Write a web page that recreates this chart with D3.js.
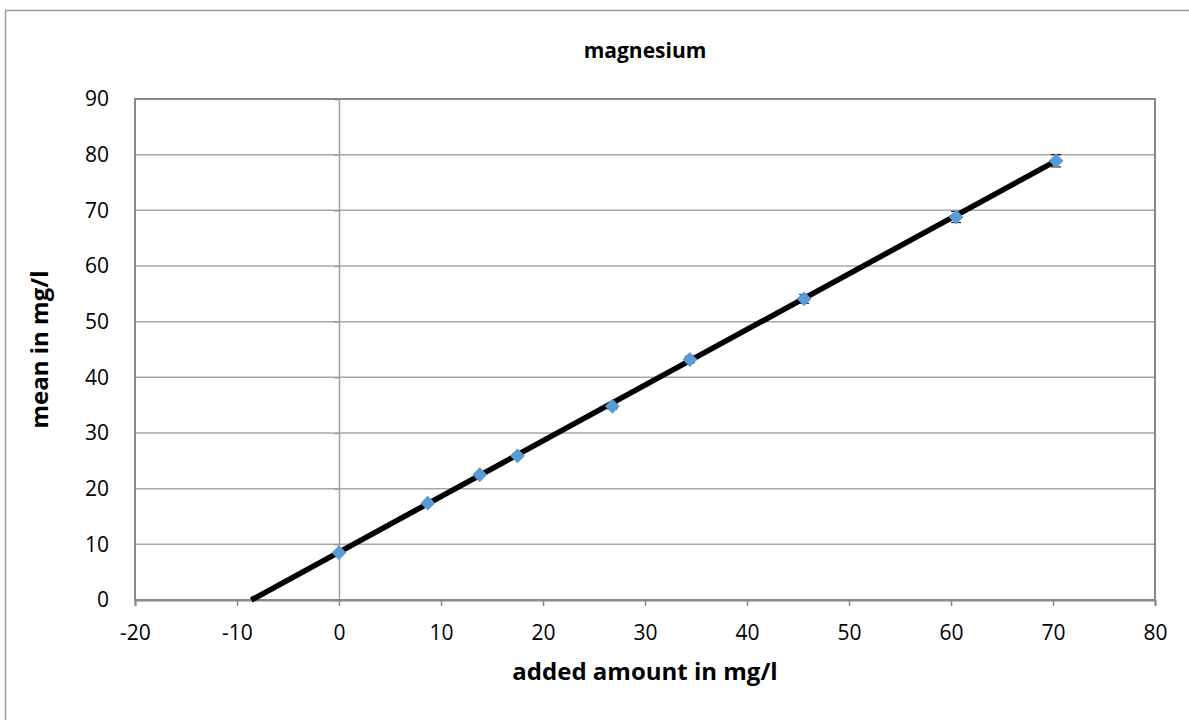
<!DOCTYPE html>
<html>
<head>
<meta charset="utf-8">
<script src="https://cdn.jsdelivr.net/npm/d3@7"></script>
<style>
  body { margin: 0; background: #fff; }
  svg { display: block; font-family: "Open Sans", "Liberation Sans", sans-serif; }
</style>
</head>
<body>
<script>
// data
var added = [0, 8.7, 13.8, 17.5, 26.8, 34.4, 45.6, 60.5, 70.3];
var means = [8.5, 17.4, 22.5, 25.9, 34.8, 43.2, 54.1, 68.8, 78.9];
var errs = [0.2, 0.3, 0.3, 0.4, 0.5, 0.6, 0.8, 1.0, 1.1];
var fitLine = [[-8.6, 0], [70.3, 78.9]];
var xTicks = [-20, -10, 0, 10, 20, 30, 40, 50, 60, 70, 80];
var yTicks = [0, 10, 20, 30, 40, 50, 60, 70, 80, 90];

var W = 1189, H = 720;
var pLeft = 135, pRight = 1155, pTop = 99, pBottom = 600;

var svg = d3.select("body").append("svg")
  .attr("width", W).attr("height", H);

// outer frame
svg.append("rect")
  .attr("x", 5.5).attr("y", 10.5)
  .attr("width", 1190).attr("height", 720)
  .attr("fill", "none").attr("stroke", "#9a9a9a").attr("stroke-width", 1.5);

var x = d3.scaleLinear().domain([-20, 80]).range([pLeft, pRight]);
var y = d3.scaleLinear().domain([0, 90]).range([pBottom, pTop]);

// gridlines
svg.append("g").selectAll("line")
  .data(yTicks.slice(1, -1))
  .enter().append("line")
  .attr("x1", pLeft).attr("x2", pRight)
  .attr("y1", function(d) { return y(d); })
  .attr("y2", function(d) { return y(d); })
  .attr("stroke", "#a6a6a6").attr("stroke-width", 1.5);

// vertical axis at x = 0
var yAxis = svg.append("g")
  .attr("transform", "translate(" + x(0) + ",0)")
  .call(d3.axisLeft(y).tickValues(yTicks).tickSize(5).tickFormat(""));
yAxis.selectAll("line, path").attr("stroke", "#a0a0a0").attr("stroke-width", 1.5);

// plot border
svg.append("rect")
  .attr("x", pLeft).attr("y", pTop)
  .attr("width", pRight - pLeft).attr("height", pBottom - pTop)
  .attr("fill", "none").attr("stroke", "#888").attr("stroke-width", 2);

// x axis ticks
var xAxis = svg.append("g")
  .attr("transform", "translate(0," + pBottom + ")")
  .call(d3.axisBottom(x).tickValues(xTicks).tickSize(6).tickPadding(19)
    .tickFormat(function(d) { return String(d); }));
xAxis.select(".domain").attr("stroke", "#888").attr("stroke-width", 2);
xAxis.selectAll(".tick line").attr("stroke", "#888").attr("stroke-width", 1.5);
xAxis.selectAll("text")
  .style("font-size", "21px").attr("fill", "#000")
  .style("font-family", "'Open Sans', sans-serif");

// y tick labels on the left of plot area
svg.append("g").selectAll("text")
  .data(yTicks)
  .enter().append("text")
  .attr("x", 109)
  .attr("y", function(d) { return y(d); })
  .attr("dy", "0.35em")
  .attr("text-anchor", "end")
  .style("font-size", "21px")
  .text(function(d) { return d; });

// fitted line
svg.append("path")
  .datum(fitLine)
  .attr("d", d3.line()
    .x(function(d) { return x(d[0]); })
    .y(function(d) { return y(d[1]); }))
  .attr("stroke", "#000").attr("stroke-width", 5.5).attr("fill", "none");

// error bars
var eb = svg.append("g").selectAll("g")
  .data(added)
  .enter().append("g");
eb.append("line")
  .attr("x1", function(d) { return x(d); })
  .attr("x2", function(d) { return x(d); })
  .attr("y1", function(d, i) { return y(means[i] - errs[i]); })
  .attr("y2", function(d, i) { return y(means[i] + errs[i]); })
  .attr("stroke", "#000").attr("stroke-width", 1);
[-1, 1].forEach(function(s) {
  eb.append("line")
    .attr("x1", function(d) { return x(d) - 5; })
    .attr("x2", function(d) { return x(d) + 5; })
    .attr("y1", function(d, i) { return y(means[i] + s * errs[i]); })
    .attr("y2", function(d, i) { return y(means[i] + s * errs[i]); })
    .attr("stroke", "#000").attr("stroke-width", 1);
});

// markers
svg.append("g").selectAll("path")
  .data(added)
  .enter().append("path")
  .attr("d", d3.symbol().type(d3.symbolDiamond2).size(140))
  .attr("transform", function(d, i) {
    return "translate(" + x(d) + "," + y(means[i]) + ")";
  })
  .attr("fill", "#5b9bd5");

// titles
svg.append("text")
  .attr("x", (pLeft + pRight) / 2).attr("y", 58)
  .attr("text-anchor", "middle")
  .style("font-size", "21px").style("font-weight", "bold")
  .text("magnesium");

svg.append("text")
  .attr("x", (pLeft + pRight) / 2).attr("y", 680)
  .attr("text-anchor", "middle")
  .style("font-size", "24px").style("font-weight", "bold")
  .text("added amount in mg/l");

svg.append("text")
  .attr("transform", "translate(48," + (pTop + pBottom) / 2 + ") rotate(-90)")
  .attr("text-anchor", "middle")
  .style("font-size", "24px").style("font-weight", "bold")
  .text("mean in mg/l");
</script>
</body>
</html>
